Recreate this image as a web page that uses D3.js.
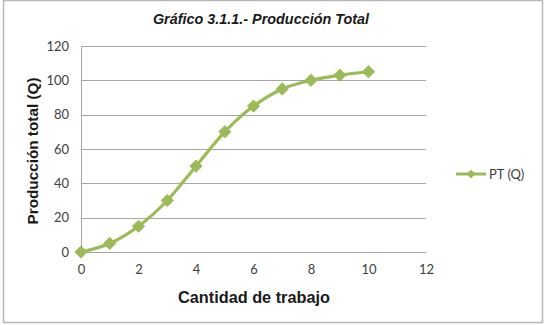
<!DOCTYPE html>
<html>
<head>
<meta charset="utf-8">
<script src="https://cdn.jsdelivr.net/npm/d3@7"></script>
<style>
  body { margin: 0; background: #fff; }
  svg { display: block; }
</style>
</head>
<body>
<svg id="chart" width="545" height="325"></svg>
<script>
// trabajo vs produccion total
var trabajo = [0, 1, 2, 3, 4, 5, 6, 7, 8, 9, 10];
var produccion = [0, 5, 15, 30, 50, 70, 85, 95, 100, 103, 105];
var xTicks = [0, 2, 4, 6, 8, 10, 12];
var yTicks = [0, 20, 40, 60, 80, 100, 120];
var serieName = "PT (Q)";

var green = "#9bbb59";
var tickFont = "Lato, 'Open Sans', sans-serif";

var svg = d3.select("#chart");

// outer frame
svg.append("rect")
    .attr("x", 3.5).attr("y", 0.5)
    .attr("width", 539).attr("height", 322)
    .attr("fill", "#fff")
    .attr("stroke", "#b8b8b8")
    .attr("stroke-width", 1.5);

var x = d3.scaleLinear().domain([0, 12]).range([81, 426]);
var y = d3.scaleLinear().domain([0, 120]).range([252, 46]);

// gridlines
svg.append("g")
    .selectAll("line")
    .data(yTicks)
    .enter().append("line")
        .attr("x1", x(0)).attr("x2", x(12))
        .attr("y1", function (d) { return Math.round(y(d)) + 0.5; })
        .attr("y2", function (d) { return Math.round(y(d)) + 0.5; })
        .attr("stroke", "#a6a6a6")
        .attr("stroke-width", 1);

// left axis line
svg.append("line")
    .attr("x1", x(0) + 0.5).attr("x2", x(0) + 0.5)
    .attr("y1", y(120)).attr("y2", y(0))
    .attr("stroke", "#a6a6a6");

var yAxis = svg.append("g")
    .attr("transform", "translate(" + 69 + ",0)")
    .call(d3.axisLeft(y).tickValues(yTicks).tickSize(0).tickPadding(0));
yAxis.select(".domain").remove();
yAxis.selectAll("text")
    .attr("font-family", tickFont)
    .attr("font-size", 13)
    .attr("fill", "#404040");

var xAxis = svg.append("g")
    .attr("transform", "translate(0," + 265 + ")")
    .call(d3.axisBottom(x).tickValues(xTicks).tickSize(0).tickPadding(0));
xAxis.select(".domain").remove();
xAxis.selectAll("text")
    .attr("font-family", tickFont)
    .attr("font-size", 13)
    .attr("fill", "#404040");

// the series
var points = trabajo.map(function (t, i) { return [t, produccion[i]]; });

var line = d3.line()
    .x(function (d) { return x(d[0]); })
    .y(function (d) { return y(d[1]); })
    .curve(d3.curveCatmullRom.alpha(0.5));

svg.append("path")
    .datum(points)
    .attr("d", line)
    .attr("fill", "none")
    .attr("stroke", green)
    .attr("stroke-width", 3.2)
    .attr("stroke-linejoin", "round");

var diamond = d3.symbol().type(d3.symbolDiamond2).size(95);

svg.append("g")
    .selectAll("path")
    .data(points)
    .enter().append("path")
        .attr("d", diamond)
        .attr("transform", function (d) {
            return "translate(" + x(d[0]) + "," + y(d[1]) + ")";
        })
        .attr("fill", green)
        .attr("stroke", green);

// title
svg.append("text")
    .attr("x", 261).attr("y", 24)
    .attr("text-anchor", "middle")
    .attr("font-family", "'Liberation Sans', Arial, sans-serif")
    .attr("font-size", 14.4)
    .attr("font-weight", "bold")
    .attr("font-style", "italic")
    .attr("fill", "#1a1a1a")
    .text("Gráfico 3.1.1.- Producción Total");

// axis titles
svg.append("text")
    .attr("transform", "translate(38,151) rotate(-90)")
    .attr("text-anchor", "middle")
    .attr("font-family", "'Liberation Sans', Arial, sans-serif")
    .attr("font-size", 15.3)
    .attr("font-weight", "bold")
    .attr("fill", "#1a1a1a")
    .text("Producción total (Q)");

svg.append("text")
    .attr("x", 254).attr("y", 303)
    .attr("text-anchor", "middle")
    .attr("font-family", "'Liberation Sans', Arial, sans-serif")
    .attr("font-size", 16.3)
    .attr("font-weight", "bold")
    .attr("fill", "#1a1a1a")
    .text("Cantidad de trabajo");

// legend
var legend = svg.append("g").attr("transform", "translate(456,174)");
legend.append("line")
    .attr("x1", 0).attr("x2", 30)
    .attr("stroke", green).attr("stroke-width", 3);
legend.append("path")
    .attr("d", d3.symbol().type(d3.symbolDiamond2).size(50))
    .attr("transform", "translate(15,0)")
    .attr("fill", green);
legend.append("text")
    .attr("x", 33).attr("y", 4.5)
    .attr("font-family", tickFont)
    .attr("font-size", 13)
    .attr("fill", "#404040")
    .text(serieName);
</script>
</body>
</html>
